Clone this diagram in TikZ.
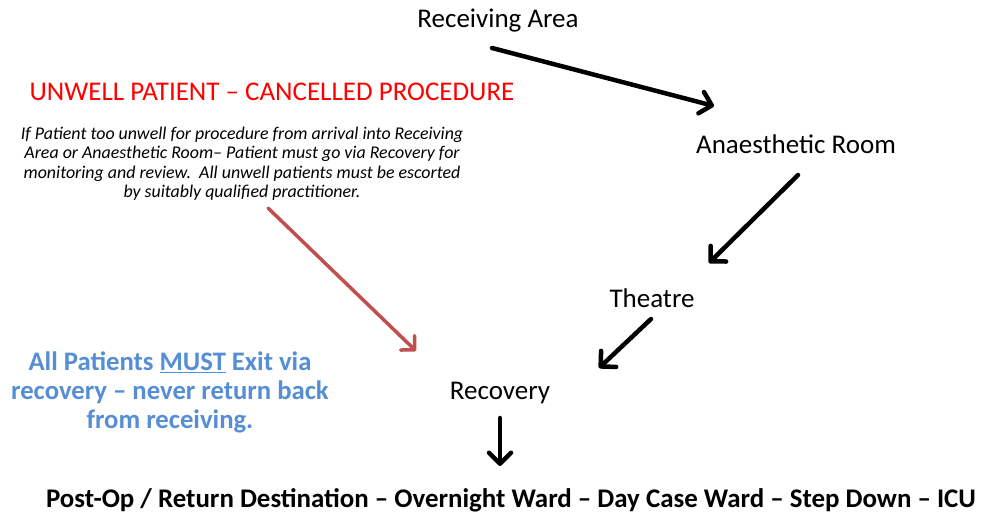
\documentclass[tikz,border=0pt]{standalone}
\usepackage{fontspec}
\setmainfont{Carlito}
\usetikzlibrary{arrows.meta}
\definecolor{titlered}{RGB}{255,0,0}
\definecolor{arrowred}{RGB}{192,80,77}
\definecolor{noteblue}{RGB}{85,142,213}
\tikzset{
  lbl/.style={inner sep=0pt, font=\fontsize{27}{32}\selectfont, text=black},
  flow/.style={line width=4.5pt, line cap=round, black,
    -{Straight Barb[length=11pt, width=22pt, line width=4.5pt, round]}},
  redflow/.style={line width=3.5pt, line cap=round, arrowred,
    -{Straight Barb[length=10pt, width=20pt, line width=3.5pt, round]}},
}
\begin{document}
\begin{tikzpicture}[x=1pt,y=-1pt]
\useasboundingbox (0,0) rectangle (983,513);
\fill[white] (0,0) rectangle (983,513);

\node[lbl] (recv) at (498,21) {Receiving Area};
\node[lbl] (anae) at (796,144) {Anaesthetic Room};
\node[lbl] (thea) at (652,298) {Theatre};
\node[lbl] (reco) at (500,393) {Recovery};
\node[inner sep=0pt, font=\fontsize{26.9}{31}\bfseries\selectfont] (dest) at (511,500)
  {Post-Op / Return Destination -- Overnight Ward -- Day Case Ward -- Step Down -- ICU};

\node[inner sep=0pt, text=titlered, font=\fontsize{27}{32}\selectfont] (title) at (272,92)
  {UNWELL PATIENT -- CANCELLED PROCEDURE};
\node[inner sep=0pt, align=center, font=\fontsize{17.9}{19.5}\itshape\selectfont] (note) at (242,163.5)
  {If Patient too unwell for procedure from arrival into Receiving\\
   Area or Anaesthetic Room-- Patient must go via Recovery for\\
   monitoring and review.\ \ All unwell patients must be escorted\\
   by suitably qualified practitioner.};
\node[inner sep=0pt, align=center, text=noteblue, font=\fontsize{26.7}{29}\bfseries\selectfont] (must) at (170,392)
  {All Patients \underline{MUST} Exit via\\ recovery -- never return back\\ from receiving.};

\coordinate (a1s) at (492,48);  \coordinate (a1e) at (714,106);
\coordinate (a2s) at (798,175); \coordinate (a2e) at (709,263);
\coordinate (a3s) at (651,319); \coordinate (a3e) at (599,368);
\coordinate (a4s) at (500,418); \coordinate (a4e) at (500,466);
\coordinate (rs) at (268,208);  \coordinate (re) at (416,351);

\draw[flow] (a1s) -- (a1e);
\draw[flow] (a2s) -- (a2e);
\draw[flow] (a3s) -- (a3e);
\draw[flow] (a4s) -- (a4e);
\draw[redflow] (rs) -- (re);
\end{tikzpicture}
\end{document}
